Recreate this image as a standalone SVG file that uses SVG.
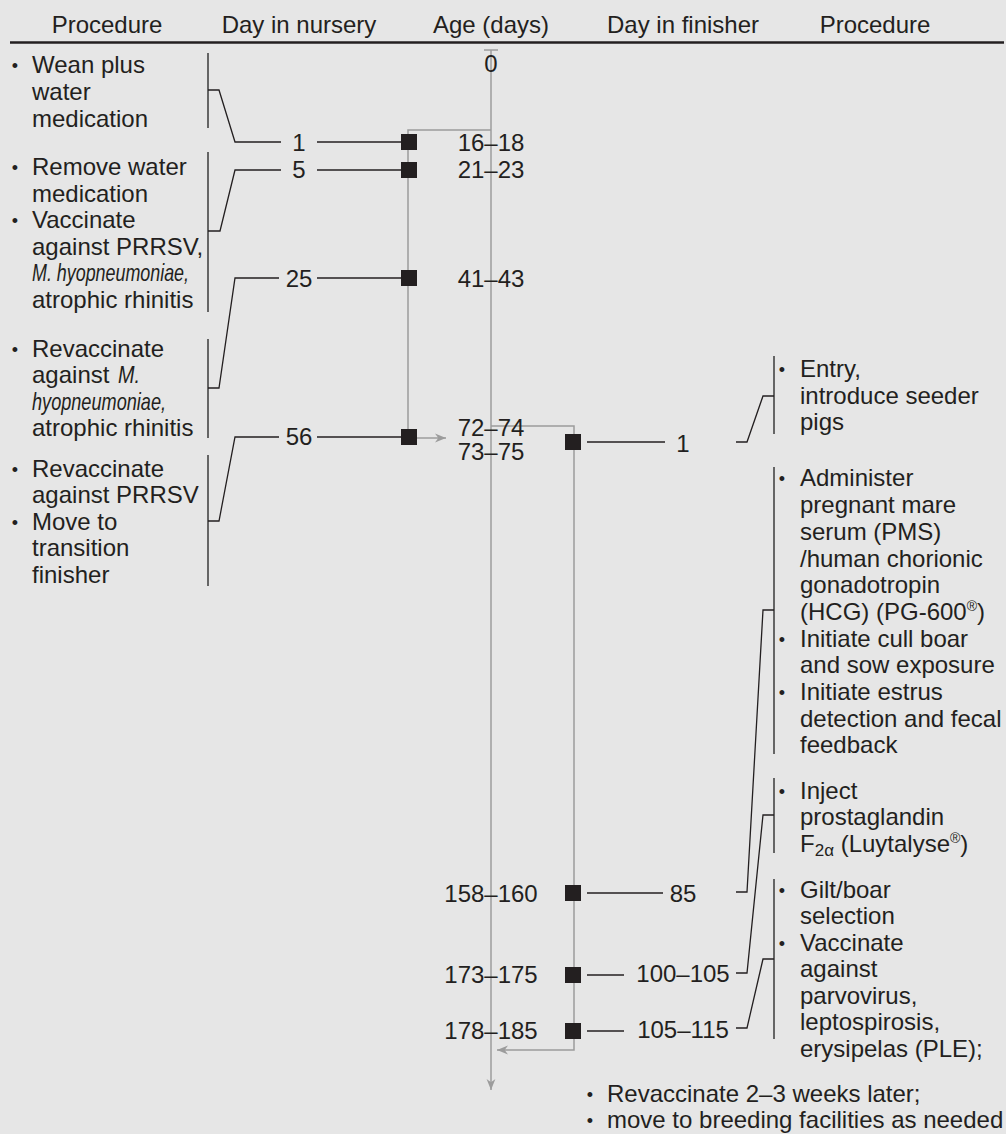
<svg xmlns="http://www.w3.org/2000/svg" width="1006" height="1134" viewBox="0 0 1006 1134">
<defs>
<style>
text{font-family:"Liberation Sans",Arial,sans-serif;font-size:24px;fill:#231f20}
.it{font-style:italic}
.b{font-size:18px;text-anchor:middle}
.m{text-anchor:middle}
.sup{font-size:14px}
.sub{font-size:17px}
.grey{fill:none;stroke:#9c9c9c;stroke-width:1.5}
.blk{fill:none;stroke:#231f20;stroke-width:1.3}
.brk{fill:none;stroke:#3a3a3a;stroke-width:1.5}
.sq{fill:#231f20}
</style>
<marker id="ah" viewBox="0 0 10 10" refX="10" refY="5" markerWidth="11" markerHeight="11" markerUnits="userSpaceOnUse" orient="auto">
<path d="M0,1 L10,5 L0,9 L3,5 z" fill="#9c9c9c"/>
</marker>
</defs>
<rect x="0" y="0" width="1006" height="1134" fill="#e6e6e6"/>

<g id="header">
<text x="107" y="33" class="m">Procedure</text>
<text x="299" y="33" class="m">Day in nursery</text>
<text x="491" y="33" class="m">Age (days)</text>
<text x="683" y="33" class="m">Day in finisher</text>
<text x="875" y="33" class="m">Procedure</text>
<line x1="10" y1="42.5" x2="1004" y2="42.5" stroke="#231f20" stroke-width="2.5"/>
</g>

<g id="connectors">
<!-- age axis -->
<path class="grey" d="M484,50 H498"/>
<path class="grey" d="M491,50 V1090" marker-end="url(#ah)"/>
<!-- nursery track -->
<path class="grey" d="M491,130 H408 V437"/>
<path class="grey" d="M417,438 H446" marker-end="url(#ah)"/>
<!-- finisher track -->
<path class="grey" d="M491,426 H574 V1050 H497" marker-end="url(#ah)"/>
<!-- left brackets -->
<path class="brk" d="M208,53 V128"/>
<path class="brk" d="M208,152 V312"/>
<path class="brk" d="M208,339 V438"/>
<path class="brk" d="M208,455 V586"/>
<path class="blk" d="M208,90 H219 L235,142 H281"/>
<path class="blk" d="M317,142 H401"/>
<path class="blk" d="M208,231 H220 L235,170 H281"/>
<path class="blk" d="M317,170 H401"/>
<path class="blk" d="M208,388 H219 L235,278 H279"/>
<path class="blk" d="M317,278 H401"/>
<path class="blk" d="M208,521 H219 L235,437 H279"/>
<path class="blk" d="M317,437 H401"/>
<!-- right brackets -->
<path class="brk" d="M774,356 V434"/>
<path class="brk" d="M774,467 V754"/>
<path class="brk" d="M774,778 V853"/>
<path class="brk" d="M774,879 V1039"/>
<path class="blk" d="M587,442 H665"/>
<path class="blk" d="M736,442 H747 L763,396 H774"/>
<path class="blk" d="M587,893 H663"/>
<path class="blk" d="M736,892 H747 L763,610 H774"/>
<path class="blk" d="M587,975 H624"/>
<path class="blk" d="M736,973 H747 L763,815 H774"/>
<path class="blk" d="M587,1031 H624"/>
<path class="blk" d="M736,1028 H747 L763,959 H774"/>
</g>

<g id="age-0"><text x="491" y="72" class="m">0</text></g>

<g id="n1">
<rect class="sq" x="401" y="134" width="16" height="16"/>
<text x="299" y="151" class="m">1</text>
<text x="491" y="151" class="m">16–18</text>
</g>
<g id="n5">
<rect class="sq" x="401" y="162" width="16" height="16"/>
<text x="299" y="178" class="m">5</text>
<text x="491" y="178" class="m">21–23</text>
</g>
<g id="n25">
<rect class="sq" x="401" y="270" width="16" height="16"/>
<text x="299" y="287" class="m">25</text>
<text x="491" y="287" class="m">41–43</text>
</g>
<g id="n56">
<rect class="sq" x="401" y="429" width="16" height="16"/>
<text x="299" y="445" class="m">56</text>
<text x="491" y="436" class="m">72–74</text>
</g>

<g id="f1">
<rect class="sq" x="565" y="434" width="16" height="16"/>
<text x="491" y="460" class="m">73–75</text>
<text x="683" y="452" class="m">1</text>
</g>
<g id="f85">
<rect class="sq" x="565" y="885" width="16" height="16"/>
<text x="491" y="902" class="m">158–160</text>
<text x="683" y="902" class="m">85</text>
</g>
<g id="f100">
<rect class="sq" x="565" y="967" width="16" height="16"/>
<text x="491" y="983" class="m">173–175</text>
<text x="683" y="982" class="m">100–105</text>
</g>
<g id="f105">
<rect class="sq" x="565" y="1023" width="16" height="16"/>
<text x="491" y="1039" class="m">178–185</text>
<text x="683" y="1038" class="m">105–115</text>
</g>

<g id="proc-wean">
<text x="15" y="72" class="b">•</text>
<text x="32" y="73">Wean plus</text>
<text x="32" y="100">water</text>
<text x="32" y="127">medication</text>
</g>
<g id="proc-vaccinate">
<text x="15" y="174" class="b">•</text>
<text x="32" y="175">Remove water</text>
<text x="32" y="201.5">medication</text>
<text x="15" y="227" class="b">•</text>
<text x="32" y="228">Vaccinate</text>
<text x="32" y="254.5">against PRRSV,</text>
<text x="32" y="281" class="it" textLength="157" lengthAdjust="spacingAndGlyphs">M. hyopneumoniae,</text>
<text x="32" y="307.5">atrophic rhinitis</text>
</g>
<g id="proc-revacc-mhyo">
<text x="15" y="355.5" class="b">•</text>
<text x="32" y="356.5">Revaccinate</text>
<text x="32" y="383">against</text>
<text x="118" y="383" class="it" textLength="22" lengthAdjust="spacingAndGlyphs">M.</text>
<text x="32" y="409.5" class="it" textLength="134" lengthAdjust="spacingAndGlyphs">hyopneumoniae,</text>
<text x="32" y="436">atrophic rhinitis</text>
</g>
<g id="proc-revacc-prrsv">
<text x="15" y="476" class="b">•</text>
<text x="32" y="477">Revaccinate</text>
<text x="32" y="503">against PRRSV</text>
<text x="15" y="529" class="b">•</text>
<text x="32" y="530">Move to</text>
<text x="32" y="556">transition</text>
<text x="32" y="583">finisher</text>
</g>

<g id="proc-entry">
<text x="782" y="376" class="b">•</text>
<text x="800" y="377">Entry,</text>
<text x="800" y="403.5">introduce seeder</text>
<text x="800" y="430">pigs</text>
</g>
<g id="proc-pms">
<text x="782" y="485" class="b">•</text>
<text x="800" y="486">Administer</text>
<text x="800" y="513">pregnant mare</text>
<text x="800" y="540">serum (PMS)</text>
<text x="800" y="566.5">/human chorionic</text>
<text x="800" y="593">gonadotropin</text>
<text x="800" y="620">(HCG) (PG-600<tspan class="sup" dy="-9">®</tspan><tspan dy="9">)</tspan></text>
<text x="782" y="645.5" class="b">•</text>
<text x="800" y="646.5">Initiate cull boar</text>
<text x="800" y="673">and sow exposure</text>
<text x="782" y="699" class="b">•</text>
<text x="800" y="700">Initiate estrus</text>
<text x="800" y="726.5">detection and fecal</text>
<text x="800" y="753">feedback</text>
</g>
<g id="proc-prostaglandin">
<text x="782" y="797.5" class="b">•</text>
<text x="800" y="798.5">Inject</text>
<text x="800" y="825">prostaglandin</text>
<text x="800" y="851.5">F<tspan class="sub" dy="4">2α</tspan><tspan dy="-4"> (Luytalyse</tspan><tspan class="sup" dy="-9">®</tspan><tspan dy="9">)</tspan></text>
</g>
<g id="proc-selection">
<text x="782" y="896.5" class="b">•</text>
<text x="800" y="897.5">Gilt/boar</text>
<text x="800" y="924">selection</text>
<text x="782" y="949.5" class="b">•</text>
<text x="800" y="950.5">Vaccinate</text>
<text x="800" y="977">against</text>
<text x="800" y="1003.5">parvovirus,</text>
<text x="800" y="1030">leptospirosis,</text>
<text x="800" y="1056.5">erysipelas (PLE);</text>
</g>
<g id="proc-breeding">
<text x="590" y="1100.5" class="b">•</text>
<text x="607" y="1101.5">Revaccinate 2–3 weeks later;</text>
<text x="590" y="1127" class="b">•</text>
<text x="607" y="1128">move to breeding facilities as needed</text>
</g>
</svg>
